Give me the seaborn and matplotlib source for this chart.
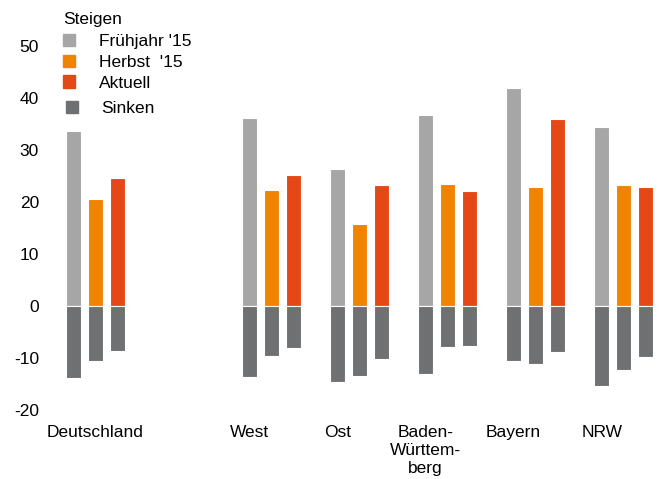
import matplotlib.pyplot as plt
import pandas as pd
import seaborn as sns
from matplotlib.patches import Patch

# categories (empty slot between Deutschland and West)
categories = ['Deutschland', ' ', 'West', 'Ost', 'Baden-\nWürttem-\nberg', 'Bayern', 'NRW']
regions = ['Deutschland', 'West', 'Ost', 'Baden-\nWürttem-\nberg', 'Bayern', 'NRW']
series = ["Frühjahr '15", "Herbst  '15", 'Aktuell']

# Steigen
steigen_fruehjahr = [33.6, 36.1, 26.4, 36.8, 42.0, 34.5]
steigen_herbst = [20.6, 22.4, 15.8, 23.5, 22.9, 23.2]
steigen_aktuell = [24.7, 25.2, 23.2, 22.2, 36.0, 22.8]

# Sinken
sinken_fruehjahr = [-13.9, -13.6, -14.7, -13.1, -10.5, -15.3]
sinken_herbst = [-10.6, -9.7, -13.4, -7.8, -11.2, -12.4]
sinken_aktuell = [-8.7, -8.1, -10.1, -7.6, -8.8, -9.9]

y_ticks = [-20, -10, 0, 10, 20, 30, 40, 50]

colors = {"Frühjahr '15": '#a6a6a6', "Herbst  '15": '#f08300', 'Aktuell': '#e54716'}
sinken_color = '#6f7072'


def to_long(a, b, c):
    rows = []
    for vals, name in zip([a, b, c], series):
        for region, v in zip(regions, vals):
            rows.append((region, name, v))
    return pd.DataFrame(rows, columns=['region', 'serie', 'value'])


df_up = to_long(steigen_fruehjahr, steigen_herbst, steigen_aktuell)
df_down = to_long(sinken_fruehjahr, sinken_herbst, sinken_aktuell)

sns.set_style('white')
plt.rcParams['font.family'] = ['Liberation Sans', 'DejaVu Sans']
plt.rcParams['text.color'] = 'black'
fs = 12.5

fig = plt.figure(figsize=(6.65, 4.79), dpi=100)
ax = fig.add_axes([51.5 / 665, 69 / 479, (665 - 51.5) / 665, (410 - 35.6) / 479])

bar_kw = dict(x='region', y='value', hue='serie', order=categories, hue_order=series,
              width=0.75, gap=0.3, errorbar=None, edgecolor='white', linewidth=0.8,
              saturation=1, legend=False, ax=ax)
sns.barplot(data=df_up, palette=colors, **bar_kw)
sns.barplot(data=df_down, palette={s: sinken_color for s in series}, **bar_kw)

ax.set_xlim(-0.5, 6.47)
ax.set_ylim(-20, 52)
ax.set_yticks(y_ticks)
ax.set_yticklabels([str(t) for t in y_ticks], fontsize=fs)
# category labels sit a bit left of the groups, except Deutschland
ax.set_xticks([0, 1.75, 2.75, 3.75, 4.75, 5.75])
ax.set_xticklabels(regions, fontsize=fs, linespacing=1.25)
ax.tick_params(axis='y', length=0, pad=9, labelcolor='black')
ax.tick_params(axis='x', length=0, pad=11, labelcolor='black')
ax.set_xlabel('')
ax.set_ylabel('')
sns.despine(ax=ax, left=True, bottom=True)

handle_kw = dict(fontsize=fs, frameon=False, borderpad=0, borderaxespad=0,
                 handlelength=0.7, handleheight=0.7, handletextpad=1.35, labelspacing=0.32)
leg1 = fig.legend(handles=[Patch(color=colors[s]) for s in series], labels=series,
                  title='Steigen', title_fontsize=fs, alignment='left',
                  loc='upper left', bbox_to_anchor=(63 / 665, 1 - 12 / 479), **handle_kw)
leg1._legend_box.sep = 5
leg2 = fig.legend(handles=[Patch(color=sinken_color)], labels=['Sinken'],
                  loc='upper left', bbox_to_anchor=(66 / 665, 1 - 101 / 479), **handle_kw)

plt.savefig('out.png', dpi=100)
plt.close()
